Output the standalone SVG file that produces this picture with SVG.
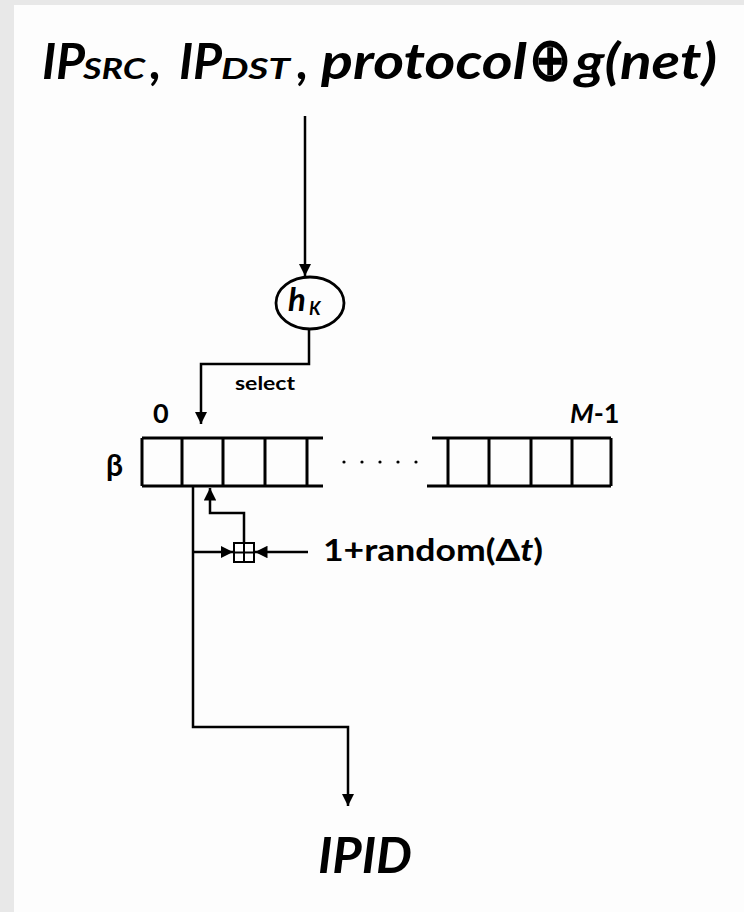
<svg xmlns="http://www.w3.org/2000/svg" width="744" height="912" viewBox="0 0 744 912">
<defs>
<style>
.t{font-family:Lato,"Open Sans","Liberation Sans",sans-serif;font-weight:bold;fill:#000}
.i{font-style:italic}
.ln{fill:none;stroke:#000;stroke-width:2.5}
.bx{fill:none;stroke:#000;stroke-width:3}
</style>
<marker id="ah" viewBox="0 0 10 10" refX="10" refY="5" markerWidth="5" markerHeight="5" orient="auto" markerUnits="strokeWidth">
<path d="M0,0 L10,5 L0,10 z" fill="#000"/>
</marker>
</defs>
<rect x="0" y="0" width="744" height="912" fill="#e8e8e8"/>
<rect x="14" y="5" width="730" height="907" fill="#fdfdfd"/>

<g id="title">
<text class="t i" x="42" y="79" font-size="50">IP</text>
<text class="t i" x="83" y="79" font-size="28" textLength="62" lengthAdjust="spacingAndGlyphs">SRC</text>
<text class="t i" x="150" y="79" font-size="50">,</text>
<text class="t i" x="179" y="79" font-size="50">IP</text>
<text class="t i" x="221" y="79" font-size="28" textLength="69" lengthAdjust="spacingAndGlyphs">DST</text>
<text class="t i" x="297" y="79" font-size="50">,</text>
<text class="t i" x="321" y="79" font-size="50" textLength="206" lengthAdjust="spacingAndGlyphs">protocol</text>
<text class="t" x="529" y="80" font-size="60" font-family="DejaVu Sans" font-weight="normal" textLength="42" lengthAdjust="spacingAndGlyphs">⊕</text>
<text class="t i" x="575" y="79" font-size="50" textLength="142" lengthAdjust="spacingAndGlyphs">g(net)</text>
</g>

<g id="hash">
<ellipse cx="310" cy="303" rx="34" ry="26" fill="none" stroke="#000" stroke-width="2.8"/>
<text class="t i" x="288" y="311" font-size="33">h</text>
<text class="t i" x="309" y="315" font-size="18">K</text>
</g>

<g id="array">
<text class="t" x="153" y="423" font-size="27">0</text>
<text class="t i" x="570" y="423" font-size="27">M<tspan font-style="normal">-1</tspan></text>
<text class="t" x="106" y="476" font-size="30" font-family="DejaVu Sans">β</text>
<path class="bx" d="M142,438 H323 M142,486 H323 M142,438 V486 M182,438 V486 M223,438 V486 M265,438 V486 M307,438 V486"/>
<path class="bx" d="M432,438 H611 M427,486 H611 M448,438 V486 M489,438 V486 M531,438 V486 M572,438 V486 M611,438 V486"/>
<g fill="#000">
<circle cx="344" cy="462" r="1.6"/><circle cx="362" cy="462" r="1.6"/><circle cx="380" cy="462" r="1.6"/><circle cx="398" cy="462" r="1.6"/><circle cx="416" cy="462" r="1.6"/>
</g>
</g>

<g id="adder">
<rect x="234" y="543" width="20" height="19" fill="#fff" stroke="#000" stroke-width="2"/>
<path d="M244,543 V562 M234,552.5 H254" stroke="#000" stroke-width="2"/>
</g>

<g id="labels">
<text class="t" x="235" y="390" font-size="19" textLength="60" lengthAdjust="spacingAndGlyphs">select</text>
<text class="t" x="323" y="561" font-size="31" textLength="220" lengthAdjust="spacingAndGlyphs">1+random(Δ<tspan font-style="italic">t</tspan>)</text>
<text class="t i" x="318" y="873" font-size="49" textLength="94" lengthAdjust="spacingAndGlyphs">IPID</text>
</g>

<g id="connectors">
<path class="ln" d="M305,116 V276" marker-end="url(#ah)"/>
<path class="ln" d="M309,329 V364 H201 V424" marker-end="url(#ah)"/>
<path class="ln" d="M193,486 V727 H348 V806" marker-end="url(#ah)"/>
<path class="ln" d="M244,543 V513 H210 V488" marker-end="url(#ah)"/>
<path class="ln" d="M193,552 H233" marker-end="url(#ah)"/>
<path class="ln" d="M308,552 H255" marker-end="url(#ah)"/>
</g>
</svg>
